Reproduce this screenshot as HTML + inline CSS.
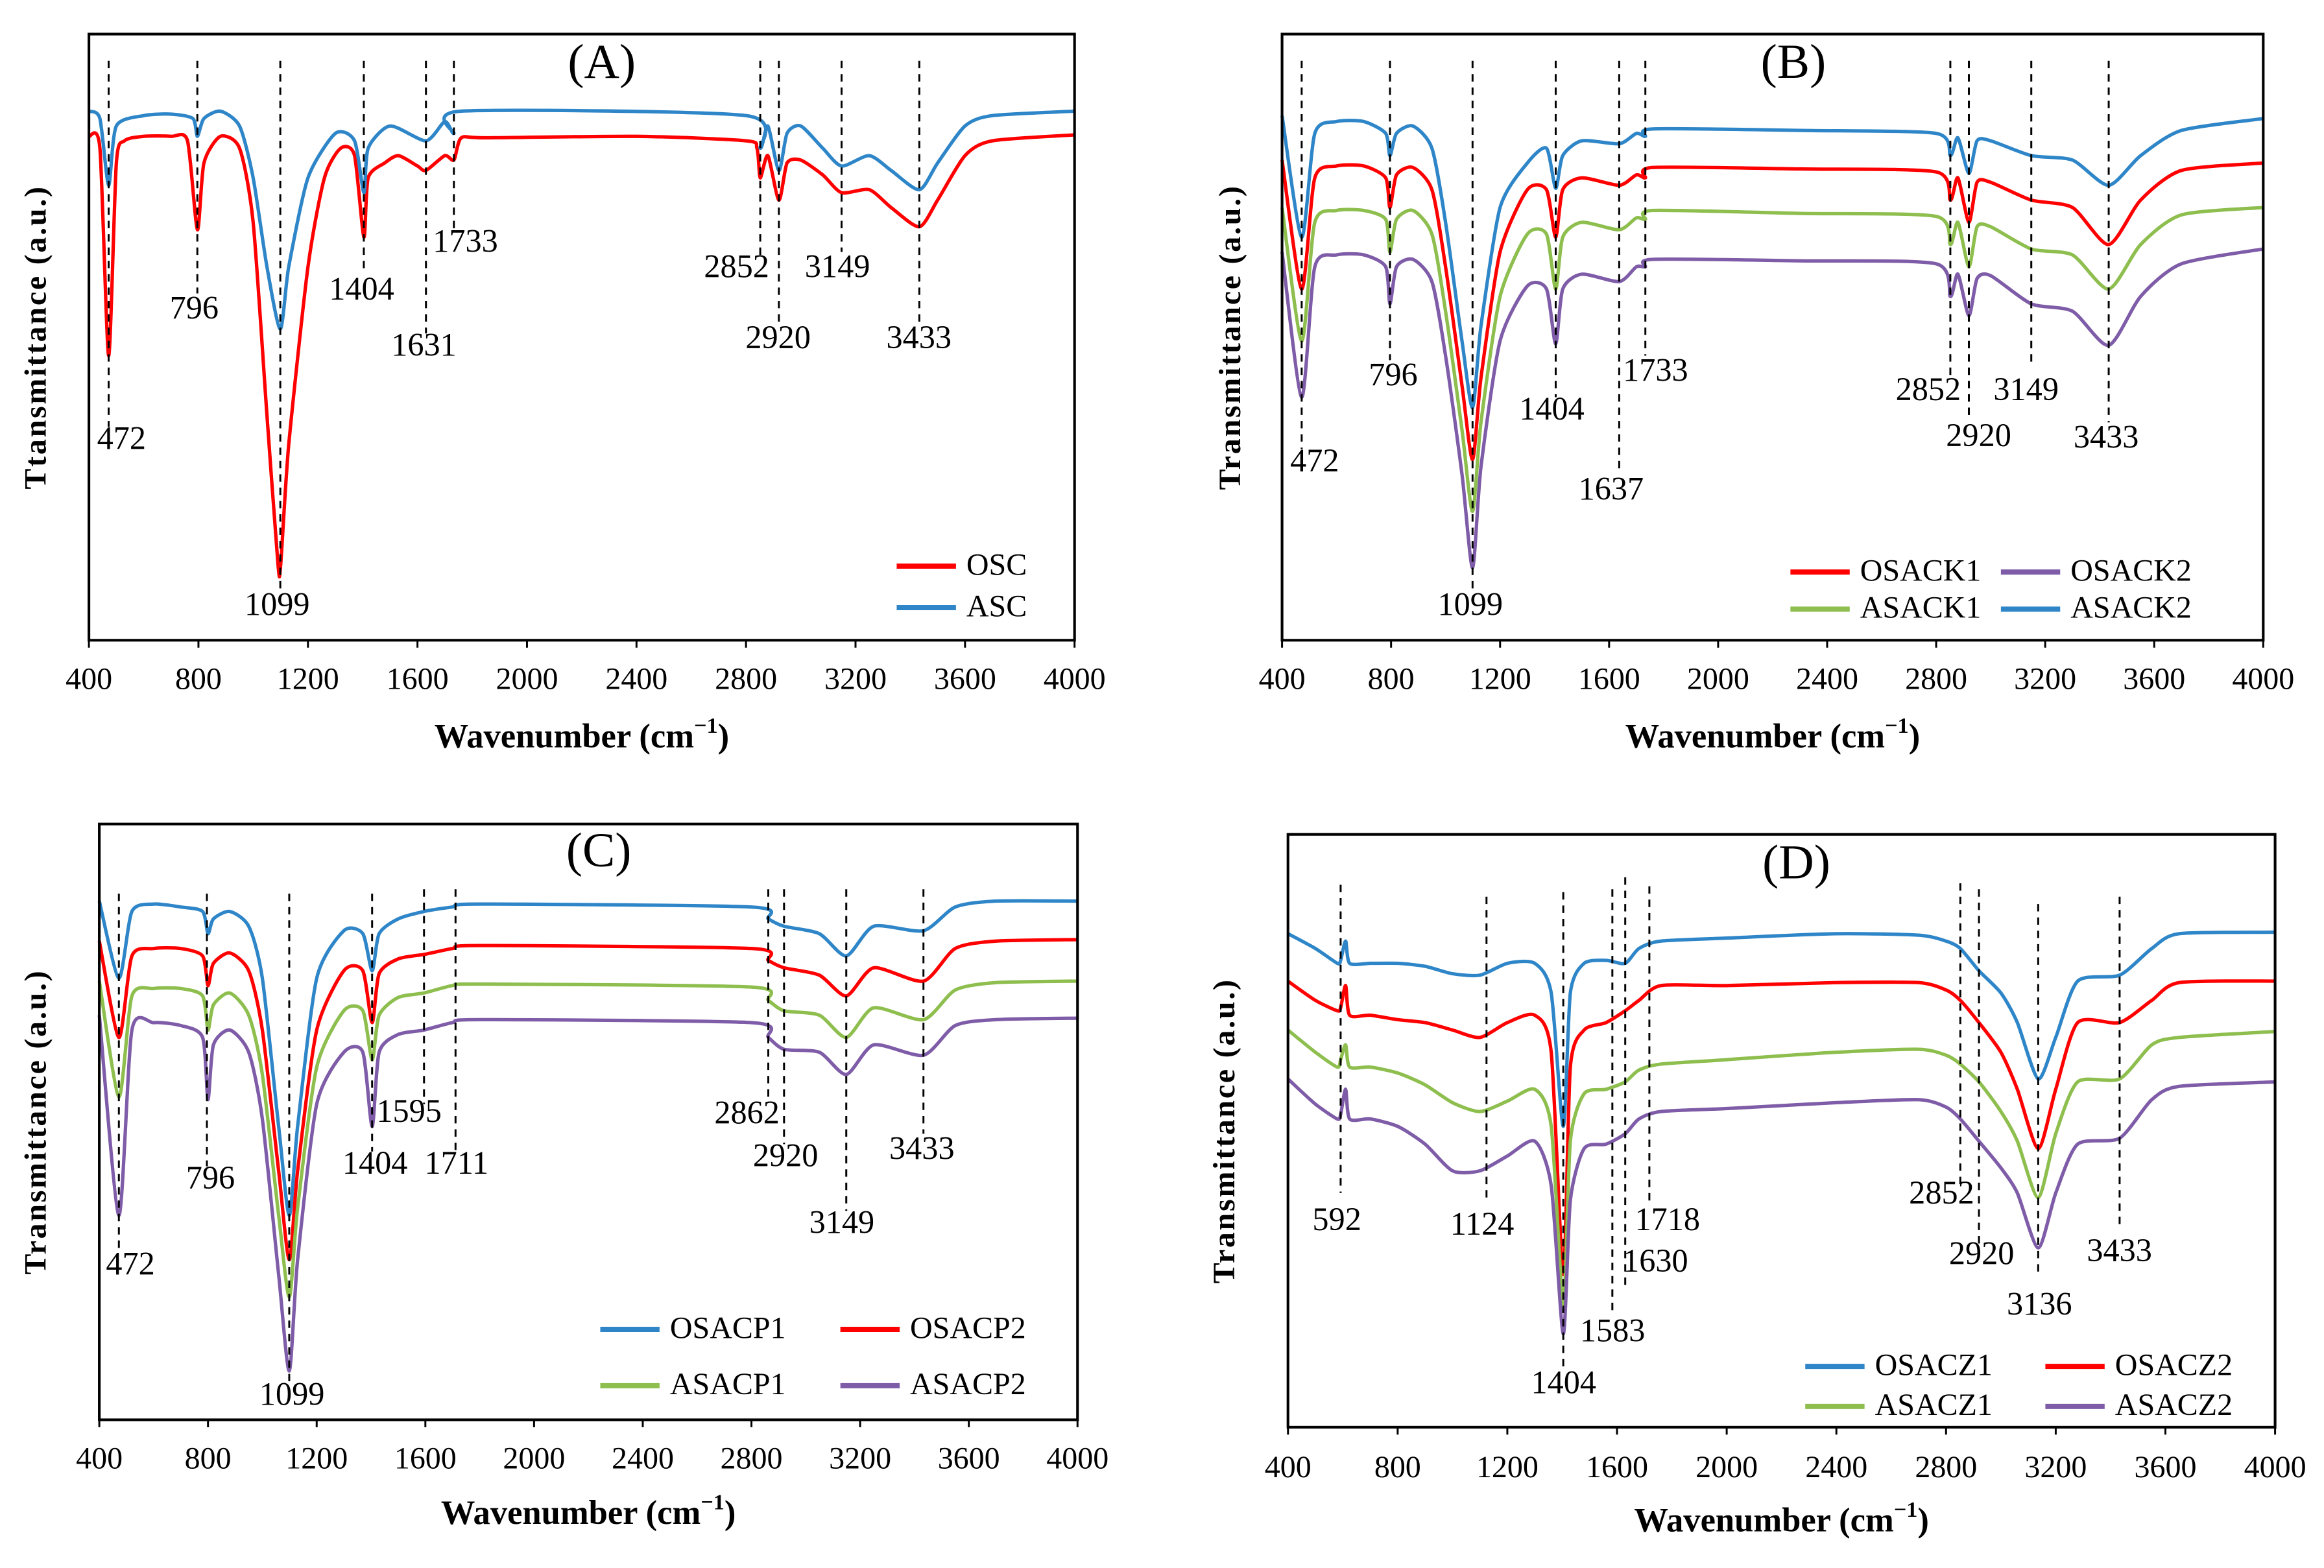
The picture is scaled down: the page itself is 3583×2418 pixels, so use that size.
<!DOCTYPE html>
<html><head><meta charset="utf-8"><style>
html,body{margin:0;padding:0;background:#fff;}
svg{display:block;}
text{font-family:"Liberation Serif",serif;fill:#000;}
</style></head><body>
<svg id="fig" width="3583" height="2418" viewBox="0 0 1568 1058" preserveAspectRatio="none" xmlns="http://www.w3.org/2000/svg"></svg>
<script>
// x-axis ticks (wavenumber)
const xTicks = [400,800,1200,1600,2000,2400,2800,3200,3600,4000];
// Panel A
const aWn_OSC = [400,440,472,500,530,600,700,760,796,820,880,950,1000,1050,1090,1100,1130,1200,1260,1320,1370,1404,1420,1480,1530,1600,1631,1700,1733,1760,1850,2400,2800,2840,2852,2880,2920,2950,3000,3080,3149,3250,3330,3433,3500,3600,3700,4000];
const aT_OSC = [408,400,260,390,405,408,408,405,345,390,408,400,350,220,120,118,200,320,380,400,395,340,380,390,395,388,385,395,392,407,407,408,405,400,380,395,365,390,392,382,370,372,360,347,365,395,405,409];
const aWn_ASC = [400,440,472,500,600,700,780,796,820,880,950,1000,1050,1099,1130,1200,1300,1370,1404,1420,1500,1631,1700,1733,1760,2800,2852,2880,2920,2950,3000,3080,3149,3250,3330,3433,3500,3600,3700,4000];
const aT_ASC = [425,420,375,415,422,423,420,408,420,425,415,380,320,278,320,380,410,405,370,400,415,405,418,410,425,422,400,415,385,410,415,400,388,395,385,372,390,415,422,425];
const aPeaks = [472,796,1099,1404,1631,1733,2852,2920,3149,3433];
// Panel B
const bWn = [400,472,520,600,700,780,796,820,880,950,1000,1060,1099,1130,1200,1300,1370,1404,1430,1500,1637,1700,1733,1760,2300,2800,2852,2880,2920,2950,3000,3149,3300,3433,3550,3700,4000];
const bT_ASACK2 = [422,340,410,418,418,410,395,410,415,400,350,270,225,280,360,390,400,373,395,405,403,410,408,413,412,410,395,407,383,405,405,395,392,375,395,412,420];
const bT_OSACK1 = [392,305,380,388,388,380,360,382,387,372,320,240,190,245,330,372,372,340,372,380,375,382,380,387,386,384,365,380,350,377,377,365,360,335,365,385,390];
const bT_ASACK1 = [360,270,350,358,358,352,330,352,358,342,290,210,155,215,300,342,342,305,340,350,345,353,352,358,356,354,335,350,320,347,347,332,328,305,335,355,360];
const bT_OSACK2 = [330,232,320,328,328,320,295,320,325,310,260,180,117,185,270,307,305,268,305,315,310,320,320,325,324,322,300,315,287,312,314,295,290,267,300,322,332];
const bPeaks = [472,796,1099,1404,1637,1733,2852,2920,3149,3433];
// Panel C
const cWn = [400,472,520,600,700,780,800,820,880,950,1000,1060,1099,1130,1200,1300,1370,1404,1430,1500,1595,1700,1800,2800,2862,2920,3050,3149,3250,3433,3550,3700,4000];
const cT_OSACP1 = [392,340,385,390,388,385,370,380,385,375,340,240,180,240,340,372,370,345,370,380,385,388,390,388,380,375,370,355,375,372,388,392,392];
const cT_OSACP2 = [365,300,355,360,360,355,335,350,357,345,305,210,150,210,305,345,345,310,343,353,356,360,362,360,352,347,342,328,347,338,360,365,366];
const cT_ASACP1 = [338,260,328,333,333,328,305,322,330,315,275,180,125,185,280,318,318,285,315,327,330,335,336,334,325,318,315,300,320,312,332,337,338];
const cT_ASACP2 = [315,180,305,310,308,300,258,295,305,290,245,140,75,150,255,290,290,240,290,302,305,310,312,310,300,292,290,275,295,288,308,312,313];
const cPeaks = [472,796,1099,1404,1595,1711,2862,2920,3149,3433];
// Panel D
const dWn = [400,500,580,592,610,625,700,800,900,1000,1100,1200,1300,1360,1404,1430,1480,1560,1630,1680,1760,2000,2400,2700,2800,2852,2920,3000,3060,3136,3200,3280,3433,3550,3650,4000];
const dT_OSACZ1 = [370,360,350,352,365,350,350,350,348,343,342,350,350,330,240,330,350,352,350,360,365,367,370,369,365,360,345,330,310,272,300,338,342,360,370,371];
const dT_OSACZ2 = [338,325,318,320,335,315,315,312,310,305,300,310,315,290,140,280,305,310,318,325,335,335,337,337,332,325,310,290,265,225,265,310,310,325,337,338];
const dT_ASACZ1 = [305,290,280,285,295,280,280,276,268,256,250,257,265,240,120,230,262,265,270,278,282,285,290,292,288,282,270,250,230,192,235,270,272,295,300,304];
const dT_ASACZ2 = [272,255,245,248,265,245,245,240,228,210,210,220,230,200,100,190,225,228,235,245,250,252,256,258,253,245,230,212,195,158,195,228,232,258,267,270];
const dPeaks = [592,1124,1404,1583,1630,1718,2852,2920,3136,3433];

const BLUE="#2E86C8", RED="#FF0000", GREEN="#8DBE4E", PURPLE="#7E5CA8";
const NS="http://www.w3.org/2000/svg";
const svg=document.getElementById('fig');
function mk(tag,attrs,parent){const e=document.createElementNS(NS,tag);for(const k in attrs)e.setAttribute(k,attrs[k]);(parent||svg).appendChild(e);return e;}
function smoothPath(pts){
  let d='M'+pts[0][0].toFixed(1)+','+pts[0][1].toFixed(1);
  const k=0.12;
  for(let i=0;i<pts.length-1;i++){
    const p0=pts[i-1]||pts[i],p1=pts[i],p2=pts[i+1],p3=pts[i+2]||p2;
    const c1=[p1[0]+(p2[0]-p0[0])*k,p1[1]+(p2[1]-p0[1])*k];
    const c2=[p2[0]-(p3[0]-p1[0])*k,p2[1]-(p3[1]-p1[1])*k];
    d+=' C'+c1[0].toFixed(1)+','+c1[1].toFixed(1)+' '+c2[0].toFixed(1)+','+c2[1].toFixed(1)+' '+p2[0].toFixed(1)+','+p2[1].toFixed(1);
  }
  return d;
}

function panel(cfg){
  const g=mk('g',{});
  
  
  const x=v=>cfg.x0+(v-400)/3600*(cfg.x1-cfg.x0);
  const y=t=>cfg.tBase-t; // transmittance (a.u.) axis
  cfg.series.forEach(s=>{
    const pts=s.wn.map((w,i)=>[x(w),y(s.t[i])]);
    const p=mk('path',{d:smoothPath(pts),fill:'none',stroke:s.color,'stroke-width':2.3,'stroke-linejoin':'round'},g);
    
    
  });
  cfg.peaks.forEach((pk,i)=>{
    const m=cfg.marks[i];
    const l=mk('line',{x1:x(pk),x2:x(pk),y1:m[0],y2:m[1],stroke:'#000','stroke-width':1.3,'stroke-dasharray':'5,4'},g);
    
    
    const t=mk('text',{x:m[2],y:m[3],'font-size':22,'text-anchor':'middle','dominant-baseline':'middle'},g);
    t.textContent=pk;
    
    
  });
  const r=mk('rect',{x:cfg.x0,y:cfg.y0,width:cfg.x1-cfg.x0,height:cfg.y1-cfg.y0,fill:'none',stroke:'#000','stroke-width':1.8},g);
  
  
  xTicks.forEach(v=>{
    const tk=mk('line',{x1:x(v),x2:x(v),y1:cfg.y1,y2:cfg.y1+5,stroke:'#000','stroke-width':1.3},g);
    
    
    const tl=mk('text',{x:x(v),y:cfg.tickY,'font-size':21,'text-anchor':'middle','dominant-baseline':'middle'},g);
    tl.textContent=v;
    
    
  });
  const xt=mk('text',{x:(cfg.x0+cfg.x1)/2,y:cfg.titleY,'font-size':23,'font-weight':'bold','text-anchor':'middle','dominant-baseline':'middle'},g);
  xt.innerHTML='Wavenumber (cm<tspan font-size="15" dy="-8">−1</tspan><tspan dy="8">)</tspan>';
  
  
  const yt=mk('text',{x:0,y:0,'font-size':21,'font-weight':'bold','letter-spacing':1.2,'text-anchor':'middle','dominant-baseline':'middle',transform:`translate(${cfg.yTitleX},${(cfg.y0+cfg.y1)/2}) rotate(-90)`},g);
  yt.textContent=cfg.yTitle;
  
  
  const pt=mk('text',{x:cfg.panelTitle[1],y:cfg.panelTitle[2],'font-size':33,'text-anchor':'middle','dominant-baseline':'middle'},g);
  pt.textContent=cfg.panelTitle[0];
  
  
  cfg.legend.forEach((le,i)=>{
    const s=cfg.series.find(q=>q.label===le[0]);
    const ll=mk('line',{x1:le[1],x2:le[1]+40,y1:le[2],y2:le[2],stroke:s.color,'stroke-width':3.5},g);
    
    
    const lt=mk('text',{x:le[1]+47,y:le[2]+1,'font-size':21,'dominant-baseline':'middle'},g);
    lt.textContent=le[0];
    
    
  });
}

panel({name:'panel-a',x0:60,x1:725,y0:23,y1:432,tBase:500,tickY:460,titleY:499,yTitleX:26,yTitle:'Ttansmittance (a.u.)',
  panelTitle:['(A)',406,45],
  series:[{label:'OSC',color:RED,wn:aWn_OSC,t:aT_OSC},{label:'ASC',color:BLUE,wn:aWn_ASC,t:aT_ASC}],
  peaks:aPeaks,
  marks:[[41,288,82,298],[41,198,131,210],[41,400,187,410],[41,185,244,197],[41,225,286,235],[41,155,314,165],[41,172,497,182],[41,220,525,230],[41,170,565,182],[41,220,620,230]],
  legend:[['OSC',605,382],['ASC',605,410]]});

panel({name:'panel-b',x0:865,x1:1527,y0:23,y1:432,tBase:500,tickY:460,titleY:499,yTitleX:832,yTitle:'Transmittance (a.u.)',
  panelTitle:['(B)',1210,45],
  series:[{label:'ASACK2',color:BLUE,wn:bWn,t:bT_ASACK2},{label:'OSACK1',color:RED,wn:bWn,t:bT_OSACK1},{label:'ASACK1',color:GREEN,wn:bWn,t:bT_ASACK1},{label:'OSACK2',color:PURPLE,wn:bWn,t:bT_OSACK2}],
  peaks:bPeaks,
  marks:[[41,303,887,313],[41,243,940,255],[41,398,992,410],[41,268,1047,278],[41,320,1087,332],[41,240,1117,252],[41,255,1301,265],[41,284,1335,296],[41,245,1367,265],[41,285,1421,297]],
  legend:[['OSACK1',1208,386],['OSACK2',1350,386],['ASACK1',1208,411],['ASACK2',1350,411]]});

panel({name:'panel-c',x0:67,x1:727,y0:556,y1:958,tBase:1000,tickY:986,titleY:1023,yTitleX:26,yTitle:'Transmittance (a.u.)',
  panelTitle:['(C)',404,577],
  series:[{label:'OSACP1',color:BLUE,wn:cWn,t:cT_OSACP1},{label:'OSACP2',color:RED,wn:cWn,t:cT_OSACP2},{label:'ASACP1',color:GREEN,wn:cWn,t:cT_ASACP1},{label:'ASACP2',color:PURPLE,wn:cWn,t:cT_ASACP2}],
  peaks:cPeaks,
  marks:[[603,845,88,855],[603,787,142,797],[603,933,197,943],[603,777,253,787],[600,745,276,752],[600,777,308,787],[600,743,504,753],[600,772,530,782],[600,817,568,827],[600,765,622,777]],
  legend:[['OSACP1',405,897],['OSACP2',567,897],['ASACP1',405,935],['ASACP2',567,935]]});

panel({name:'panel-d',x0:869,x1:1535,y0:563,y1:963,tBase:1000,tickY:992,titleY:1028,yTitleX:828,yTitle:'Transmittance (a.u.)',
  panelTitle:['(D)',1212,585],
  series:[{label:'OSACZ1',color:BLUE,wn:dWn,t:dT_OSACZ1},{label:'OSACZ2',color:RED,wn:dWn,t:dT_OSACZ2},{label:'ASACZ1',color:GREEN,wn:dWn,t:dT_ASACZ1},{label:'ASACZ2',color:PURPLE,wn:dWn,t:dT_ASACZ2}],
  peaks:dPeaks,
  marks:[[597,805,902,825],[605,808,1000,828],[602,922,1055,935],[600,885,1088,900],[592,868,1117,853],[598,812,1125,825],[596,800,1310,807],[600,840,1337,848],[610,862,1376,882],[605,830,1430,846]],
  legend:[['OSACZ1',1218,922],['OSACZ2',1380,922],['ASACZ1',1218,949],['ASACZ2',1380,949]]});
</script>
</body></html>
